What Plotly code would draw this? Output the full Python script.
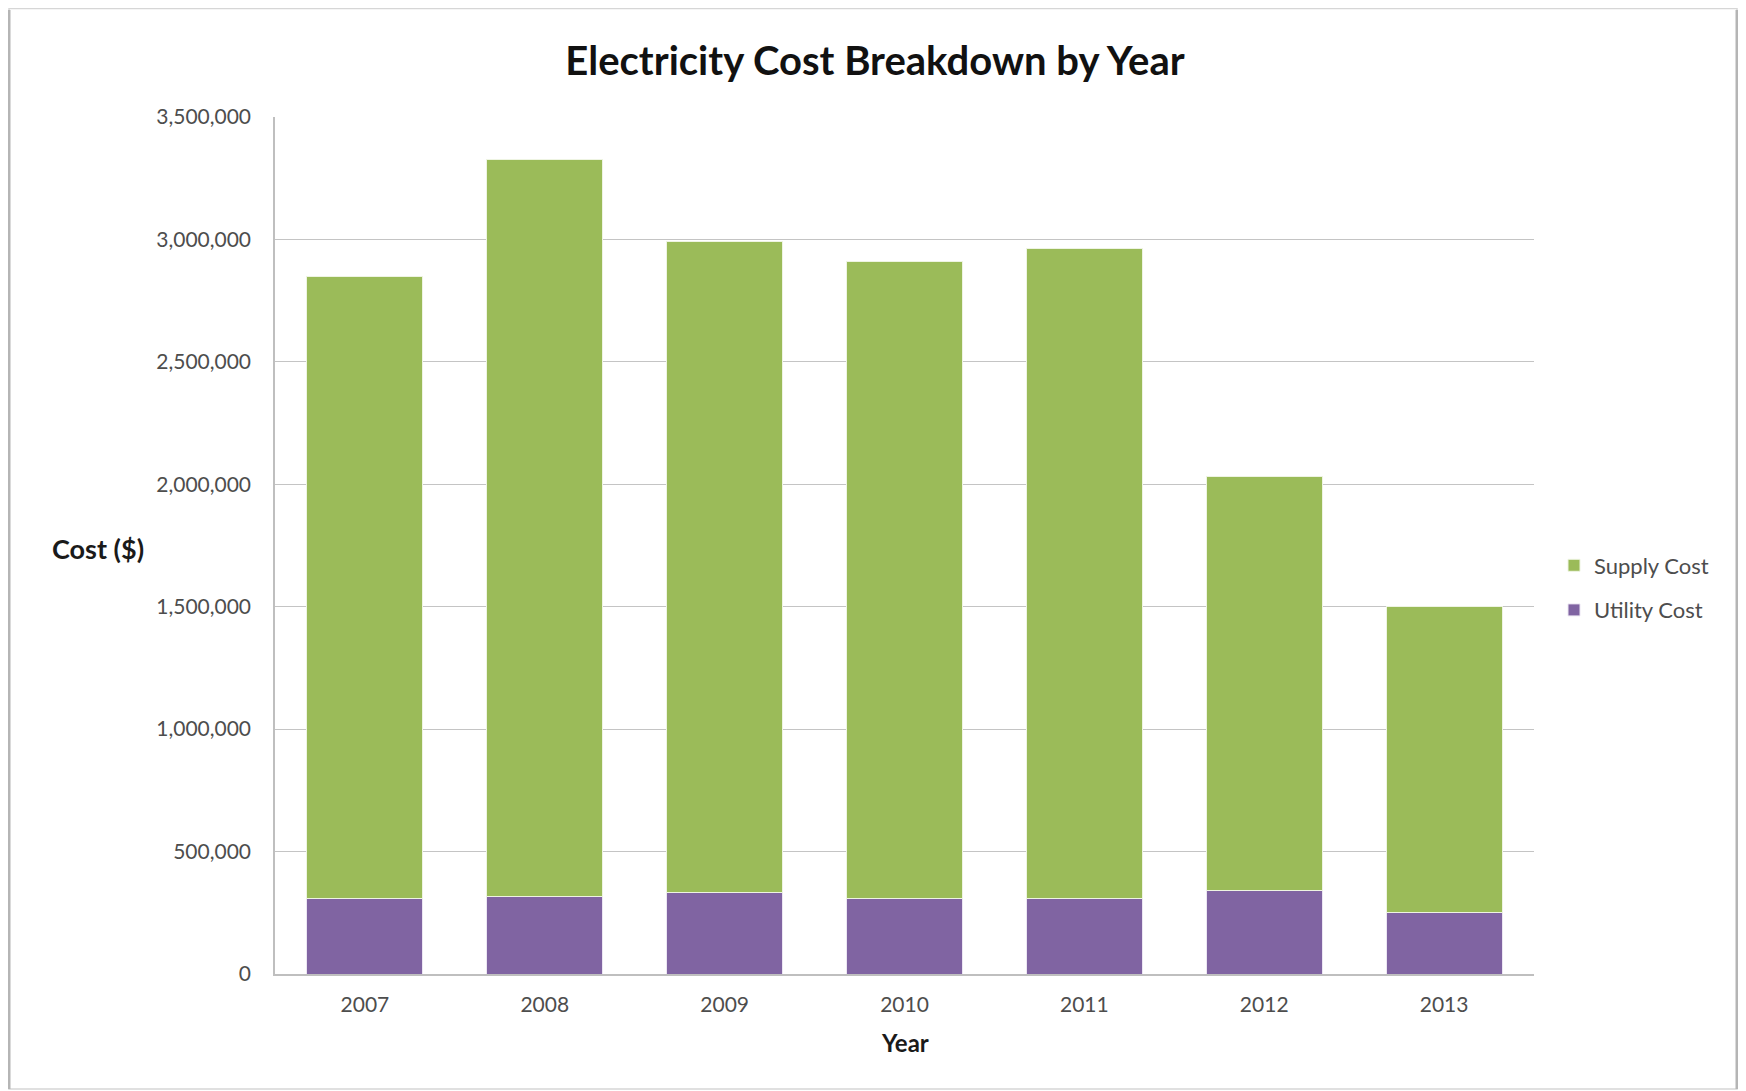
import plotly.graph_objects as go

years = ["2007", "2008", "2009", "2010", "2011", "2012", "2013"]
utility_cost = [309000, 318000, 332000, 309000, 309000, 341000, 250000]
supply_cost = [2541000, 3009000, 2659000, 2600000, 2655000, 1691000, 1250000]

W, H = 1746, 1091
L, R, T, B = 267, 220, 109, 125
pw, ph = W - L - R, H - T - B

def px(x):
    return (x - L) / pw

def py(y):
    return (H - B - y) / ph

font = "Lato, 'Open Sans', sans-serif"
tick_col = "#4d4d4d"

fig = go.Figure()
fig.add_trace(go.Bar(x=years, y=utility_cost, name="Utility Cost", legendgroup="u", legendrank=2,
                     marker=dict(color="#8064A2", line=dict(color="#ece6f3", width=1))))
fig.add_trace(go.Bar(x=years, y=supply_cost, name="Supply Cost", legendgroup="s", legendrank=1,
                     marker=dict(color="#9BBB59", line=dict(color="#eef4e2", width=1))))

fig.update_layout(
    width=W, height=H,
    barmode="stack", bargap=0.355,
    margin=dict(l=L, r=R, t=T, b=B),
    paper_bgcolor="white", plot_bgcolor="white",
    font=dict(family=font, color=tick_col, size=21),
    title=dict(text="<b>Electricity Cost Breakdown by Year</b>", x=px(867), xref="paper",
               xanchor="center", y=1 - 53 / H, yanchor="middle",
               font=dict(size=40, color="#111111", family=font)),
    showlegend=True,
    legend=dict(x=px(1546), y=py(580), xanchor="left", yanchor="middle",
                traceorder="grouped", font=dict(size=22, color=tick_col),
                itemwidth=30, tracegroupgap=13, bgcolor="rgba(0,0,0,0)"),
    xaxis=dict(showgrid=False, showline=True, linecolor="#bfbfbf", linewidth=1.5,
               tickfont=dict(size=21, color=tick_col), ticks="outside", ticklen=11,
               tickcolor="rgba(0,0,0,0)"),
    yaxis=dict(range=[0, 3500000], dtick=500000, tickformat=",d",
               showgrid=True, gridcolor="#c4c4c4", gridwidth=1.2,
               showline=True, linecolor="#bfbfbf", linewidth=1.5,
               tickfont=dict(size=21, color=tick_col), ticks="outside", ticklen=18,
               tickcolor="rgba(0,0,0,0)", zeroline=False),
    annotations=[
        dict(text="<b>Cost ($)</b>", xref="paper", yref="paper", x=px(42), y=py(540),
             xanchor="left", yanchor="middle", showarrow=False,
             font=dict(size=27, color="#1a1a1a", family=font)),
        dict(text="<b>Year</b>", xref="paper", yref="paper", x=0.5, y=py(1034),
             xanchor="center", yanchor="middle", showarrow=False,
             font=dict(size=24, color="#1a1a1a", family=font)),
    ],
    shapes=[
        dict(type="rect", xref="paper", yref="paper",
             x0=px(1), x1=px(1729), y0=py(1081), y1=py(0.5),
             line=dict(color="#d6d6d6", width=1.5), layer="below"),
        dict(type="line", xref="paper", yref="paper",
             x0=px(1), x1=px(1), y0=py(1081), y1=py(2),
             line=dict(color="#b5b5b5", width=3)),
        dict(type="line", xref="paper", yref="paper",
             x0=px(1729), x1=px(1729), y0=py(1081), y1=py(2),
             line=dict(color="#b5b5b5", width=3)),
    ],
)

fig.write_html("out.html")
